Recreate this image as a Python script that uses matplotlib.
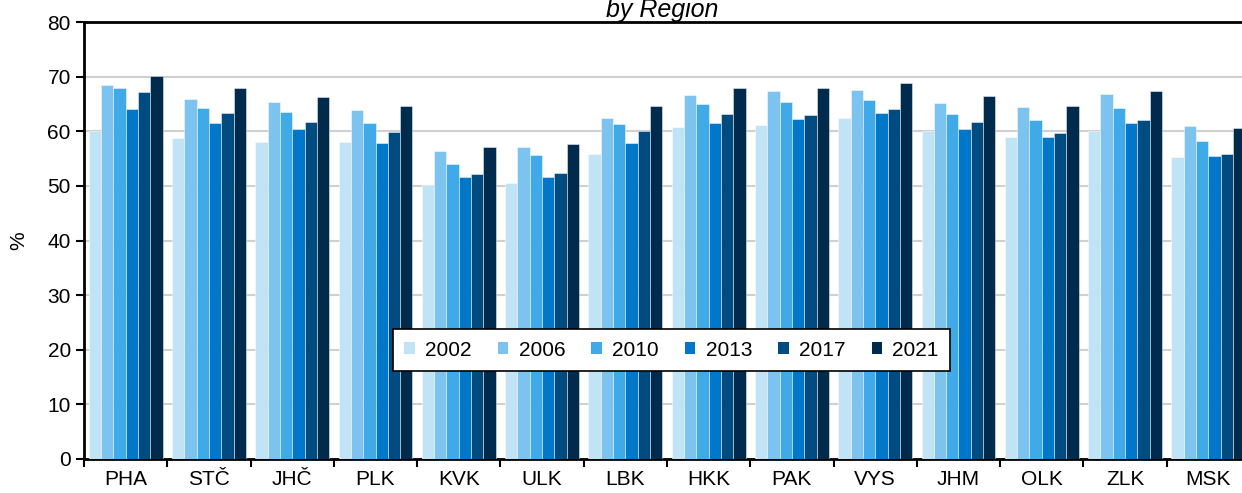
import matplotlib
matplotlib.use("Agg")
import matplotlib.pyplot as plt
import numpy as np

plt.rcParams['font.family'] = ['Liberation Sans', 'DejaVu Sans']

regions = ["PHA", "STČ", "JHČ", "PLK", "KVK", "ULK", "LBK",
           "HKK", "PAK", "VYS", "JHM", "OLK", "ZLK", "MSK"]
years = ["2002", "2006", "2010", "2013", "2017", "2021"]

v2002 = [60.0, 58.8, 58.0, 58.0, 50.2, 50.6, 55.8, 60.8, 61.2, 62.4, 60.0, 59.0, 60.0, 55.2]
v2006 = [68.5, 65.9, 65.3, 63.9, 56.4, 57.2, 62.4, 66.6, 67.4, 67.6, 65.2, 64.5, 66.8, 61.0]
v2010 = [68.0, 64.2, 63.5, 61.6, 54.0, 55.7, 61.4, 64.9, 65.4, 65.7, 63.2, 62.1, 64.2, 58.2]
v2013 = [64.1, 61.5, 60.5, 57.9, 51.6, 51.7, 57.9, 61.6, 62.3, 63.4, 60.5, 58.9, 61.5, 55.4]
v2017 = [67.1, 63.4, 61.7, 59.9, 52.1, 52.4, 60.0, 63.2, 63.0, 64.0, 61.7, 59.7, 62.1, 55.8]
v2021 = [70.2, 67.9, 66.3, 64.7, 57.1, 57.7, 64.6, 67.9, 67.9, 68.9, 66.4, 64.7, 67.4, 60.6]

series = [v2002, v2006, v2010, v2013, v2017, v2021]
colors = ["#C0E3F6", "#7CC4EF", "#40A9E7", "#0077C8", "#004B80", "#002B4C"]

fig = plt.figure(figsize=(12.42, 4.93), dpi=100)
ax = fig.add_axes([84 / 1242, 34 / 493, (1250 - 84) / 1242, 437 / 493])

x = np.arange(len(regions))
bw = 0.148
for i, (vals, c, y) in enumerate(zip(series, colors, years)):
    ax.bar(x + (i - 2.5) * bw, vals, width=bw, color=c, label=y,
           edgecolor=(1, 1, 1, 0.55), linewidth=0.6, zorder=3)

ax.set_xlim(-0.5, len(regions) - 0.5)
ax.set_ylim(0, 80)
ax.set_yticks(np.arange(0, 81, 10))
ax.set_xticks(x)
ax.set_xticklabels(regions, fontsize=15)
ax.set_xticks(np.arange(-0.5, len(regions), 1), minor=True)
ax.tick_params(axis='x', which='major', length=0, pad=8)
ax.tick_params(axis='x', which='minor', length=6, width=1.5, direction='out')
ax.tick_params(axis='y', labelsize=15, length=6, width=1.5, direction='out')

ax.yaxis.grid(True, color="#D0D0D0", linewidth=1.5, zorder=0)
ax.set_axisbelow(True)

for s in ["left", "bottom", "top"]:
    ax.spines[s].set_linewidth(2)
    ax.spines[s].set_color("black")
ax.spines["right"].set_visible(False)

ax.set_ylabel("%", fontsize=15, labelpad=14)

fig.text(662 / 1242, 1 - 17 / 493, "by Region", ha="center", va="baseline",
         fontsize=18, style="italic")

leg = ax.legend(loc="center", bbox_to_anchor=(0.504, 0.249), ncol=6,
                fontsize=15, frameon=True, fancybox=False, framealpha=1,
                handlelength=0.5, handleheight=0.5, handletextpad=0.5,
                columnspacing=1.25, borderpad=0.55)
leg.get_frame().set_edgecolor("black")
leg.get_frame().set_linewidth(1.2)
for h in leg.legend_handles:
    h.set_edgecolor("none")

fig.savefig("out.png", dpi=100)
